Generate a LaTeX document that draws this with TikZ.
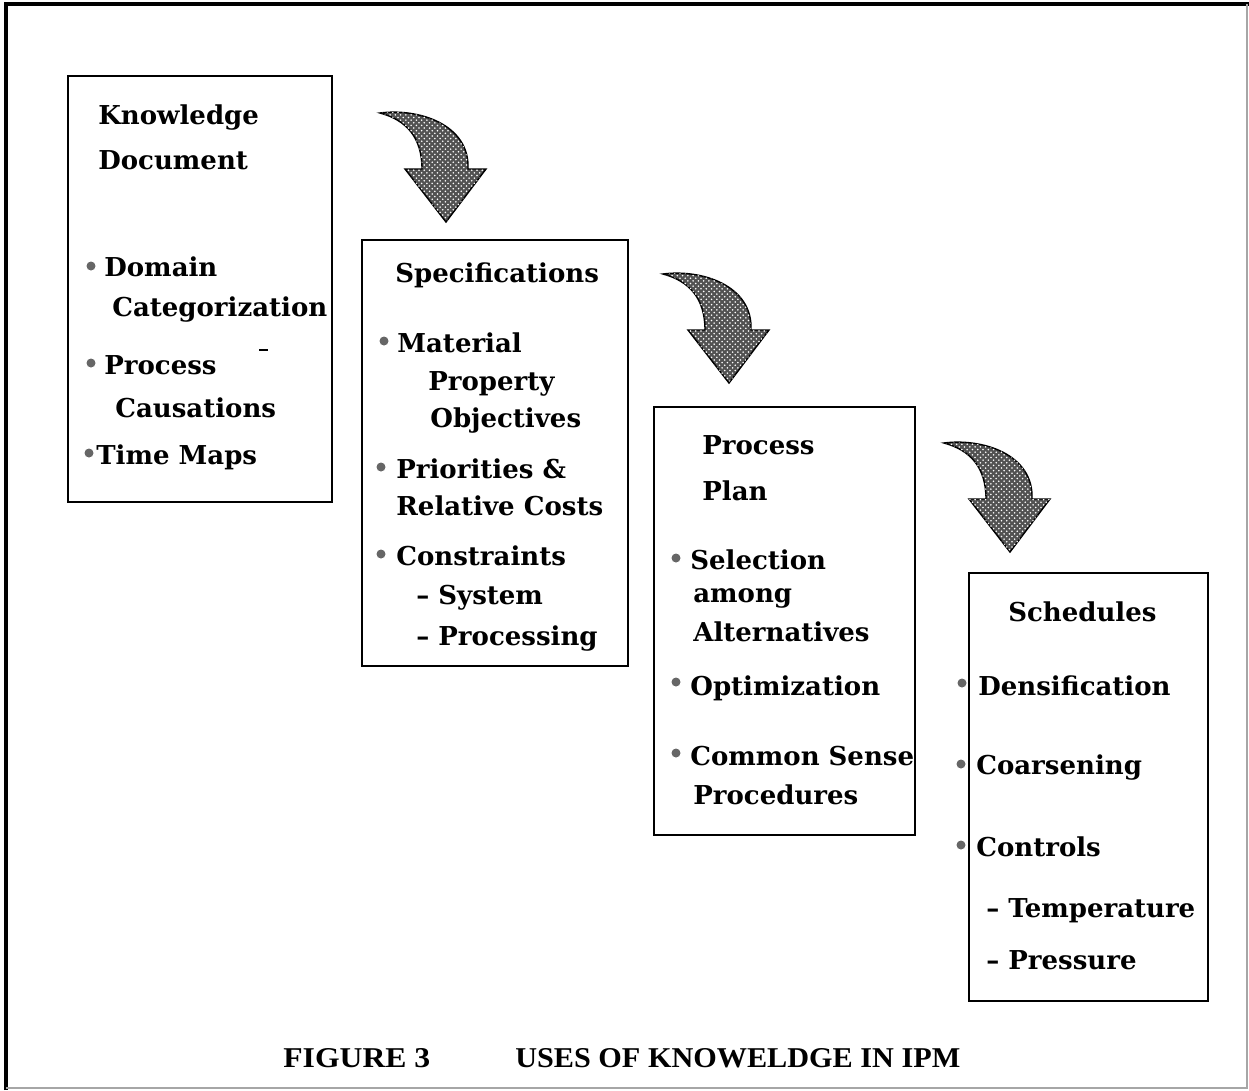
\documentclass[tikz,border=0pt]{standalone}
\usepackage{fontspec}
\setmainfont{DejaVu Serif}
\newfontfamily\capfont{Liberation Serif}
\usetikzlibrary{patterns}

\begin{document}
\begin{tikzpicture}[x=0.02cm,y=-0.02cm,
  panel/.style={draw, line width=1.1pt, inner sep=0, anchor=center},
  txt/.style={anchor=base west, inner sep=0, font=\fontsize{14.8}{18}\selectfont\bfseries},
  dotmark/.style={fill=black!60},
  bendarrow/.pic={
    \filldraw[fill=black!68, draw=black, line width=0.8pt,
      postaction={pattern=crosshatch dots, pattern color=white!70}]
      (-66,-109) .. controls (-28,-114) and (24,-98) .. (22,-53)
      -- (40,-53) -- (0,0) -- (-41,-53) -- (-24,-53)
      .. controls (-24,-85) and (-40,-102) .. cycle;
  },
]
\useasboundingbox (0,0) rectangle (1249,1090);

% outer frame
\draw[line width=1.8pt] (6,1090) -- (6,4) -- (1249,4);
\draw[black!35, line width=0.6pt] (1247,4) -- (1247,1088) -- (6,1088);

% the four stages
\node[panel, minimum width=5.28cm, minimum height=8.52cm] (know) at (200,289) {};
\node[panel, minimum width=5.32cm, minimum height=8.52cm] (spec) at (495,453) {};
\node[panel, minimum width=5.22cm, minimum height=8.56cm] (plan) at (784.5,621) {};
\node[panel, minimum width=4.78cm, minimum height=8.56cm] (sched) at (1088.5,787) {};

% curved arrows between stages
\pic at (446,222) {bendarrow};
\pic at (729,383) {bendarrow};
\pic at (1010,552) {bendarrow};

% Knowledge Document
\node[txt] (k1) at (98,124) {Knowledge};
\node[txt] (k2) at (98,169) {Document};
\fill[dotmark] (91,266) circle (4.5);
\node[txt] (k3) at (104,276) {Domain};
\node[txt] (k4) at (112,316) {Categorization};
\fill[dotmark] (91,363) circle (4.5);
\node[txt] (k5) at (104,374) {Process};
\node[txt] (k6) at (115,417) {Causations};
\fill[dotmark] (89,453) circle (4.5);
\node[txt] (k7) at (96,464) {Time Maps};
\draw[line width=1.6pt] (259,350) -- (268,350);

% Specifications
\node[txt] (s1) at (395,282) {Specifications};
\fill[dotmark] (384,341) circle (4.5);
\node[txt] (s2) at (397,352) {Material};
\node[txt] (s3) at (428,390) {Property};
\node[txt] (s4) at (430,427) {Objectives};
\fill[dotmark] (381,467) circle (4.5);
\node[txt] (s5) at (396,478) {Priorities \&};
\node[txt] (s6) at (396,515) {Relative Costs};
\fill[dotmark] (381,554) circle (4.5);
\node[txt] (s7) at (396,565) {Constraints};
\node[txt] (s8) at (416,604) {– System};
\node[txt] (s9) at (416,645) {– Processing};

% Process Plan
\node[txt] (p1) at (702,454) {Process};
\node[txt] (p2) at (702,500) {Plan};
\fill[dotmark] (676,558) circle (4.5);
\node[txt] (p3) at (690,569) {Selection};
\node[txt] (p4) at (693,602) {among};
\node[txt] (p5) at (693,641) {Alternatives};
\fill[dotmark] (676,682) circle (4.5);
\node[txt] (p6) at (690,695) {Optimization};
\fill[dotmark] (676,753) circle (4.5);
\node[txt] (p7) at (690,765) {Common Sense};
\node[txt] (p8) at (693,804) {Procedures};

% Schedules
\node[txt] (c1) at (1008,621) {Schedules};
\fill[dotmark] (962,683) circle (4.5);
\node[txt] (c2) at (978,695) {Densification};
\fill[dotmark] (961,764) circle (4.5);
\node[txt] (c3) at (976,774) {Coarsening};
\fill[dotmark] (961,845) circle (4.5);
\node[txt] (c4) at (976,856) {Controls};
\node[txt] (c5) at (986,917) {– Temperature};
\node[txt] (c6) at (986,969) {– Pressure};

% caption
\node[anchor=base west, inner sep=0] (figno) at (283,1067)
  {\resizebox{2.94cm}{0.38cm}{\capfont\bfseries FIGURE 3}};
\node[anchor=base west, inner sep=0] (title) at (515,1067)
  {\resizebox{8.9cm}{0.38cm}{\capfont\bfseries USES OF KNOWELDGE IN IPM}};
\end{tikzpicture}
\end{document}
